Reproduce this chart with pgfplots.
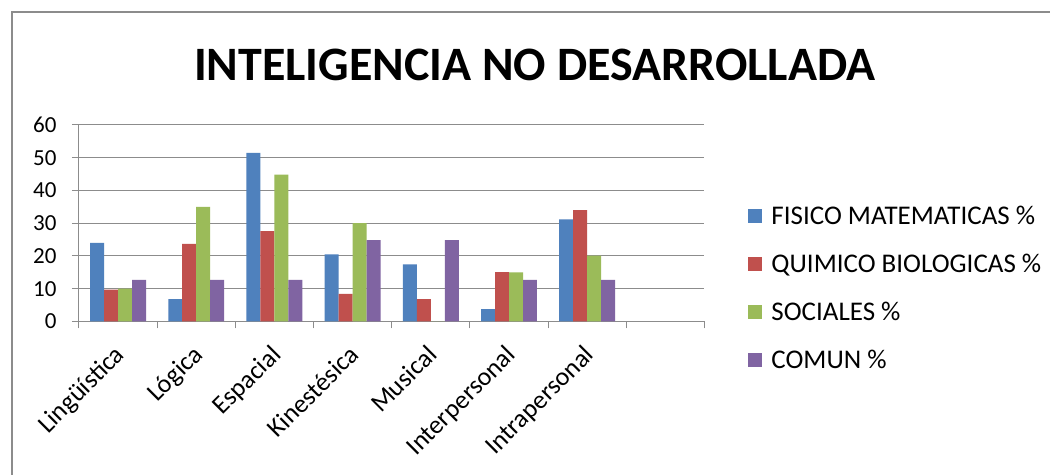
\documentclass[border=0pt]{standalone}
\usepackage{pgfplots}
\pgfplotsset{compat=1.18}
\usepackage{fontspec}
\setmainfont{Carlito}
\definecolor{cfm}{HTML}{4F81BD}
\definecolor{cqb}{HTML}{C0504D}
\definecolor{cso}{HTML}{9BBB59}
\definecolor{cco}{HTML}{8064A2}
\definecolor{gridc}{HTML}{8C8C8C}
\begin{document}
\begin{tikzpicture}[x=1pt,y=1pt]
\path[fill=white] (0,0) rectangle (1051,-475);
\draw[color=gridc, line width=1.5pt] (12,-475) -- (12,-12) -- (1051,-12);
\node[font=\fontsize{48}{58}\selectfont\bfseries] at (535,-65) {INTELIGENCIA NO DESARROLLADA};
\begin{axis}[
  at={(79pt,-321.7pt)}, anchor=south west,
  scale only axis, width=626pt, height=196.7pt,
  ybar=0pt, bar width=14pt,
  xmin=-0.5, xmax=7.5, ymin=0, ymax=60,
  ytick={0,10,...,60},
  xtick={0,...,6},
  xticklabels={Lingüística,Lógica,Espacial,Kinestésica,Musical,Interpersonal,Intrapersonal},
  minor xtick={-0.5,0.5,...,7.5},
  major x tick style={draw=none},
  minor tick length=7pt, major tick length=7pt,
  tick align=outside,
  axis x line*=bottom, axis y line*=left,
  axis line style={gridc, line width=1pt},
  tick style={gridc, line width=1pt},
  ymajorgrids, grid style={gridc, line width=1pt},
  /pgf/number format/assume math mode=true,
  y tick label style={font=\fontsize{23}{28}\selectfont, xshift=-12pt},
  x tick label style={font=\fontsize{26}{31}\selectfont, rotate=45, anchor=north east,
    inner sep=2pt, xshift=-12pt, yshift=-5pt},
  legend style={draw=none, at={(1.07,0.171)}, anchor=west, font=\fontsize{27}{32}\selectfont,
    row sep=24pt, inner sep=0pt},
  legend cell align=left,
  legend image code/.code={\fill[#1] (0pt,-7pt) rectangle (14pt,7pt); \path (21pt,0pt);},
]
\addplot[fill=cfm, draw=none] coordinates {(0,24) (1,6.8) (2,51.5) (3,20.5) (4,17.4) (5,3.8) (6,31.2)};
\addplot[fill=cqb, draw=none] coordinates {(0,9.7) (1,23.7) (2,27.6) (3,8.4) (4,6.8) (5,15.1) (6,34)};
\addplot[fill=cso, draw=none] coordinates {(0,10) (1,35) (2,44.8) (3,30) (4,0) (5,15) (6,20.1)};
\addplot[fill=cco, draw=none] coordinates {(0,12.7) (1,12.7) (2,12.7) (3,24.8) (4,24.8) (5,12.7) (6,12.7)};
\legend{FISICO MATEMATICAS \%, QUIMICO BIOLOGICAS \%, SOCIALES \%, COMUN \%}
\end{axis}
\end{tikzpicture}
\end{document}
